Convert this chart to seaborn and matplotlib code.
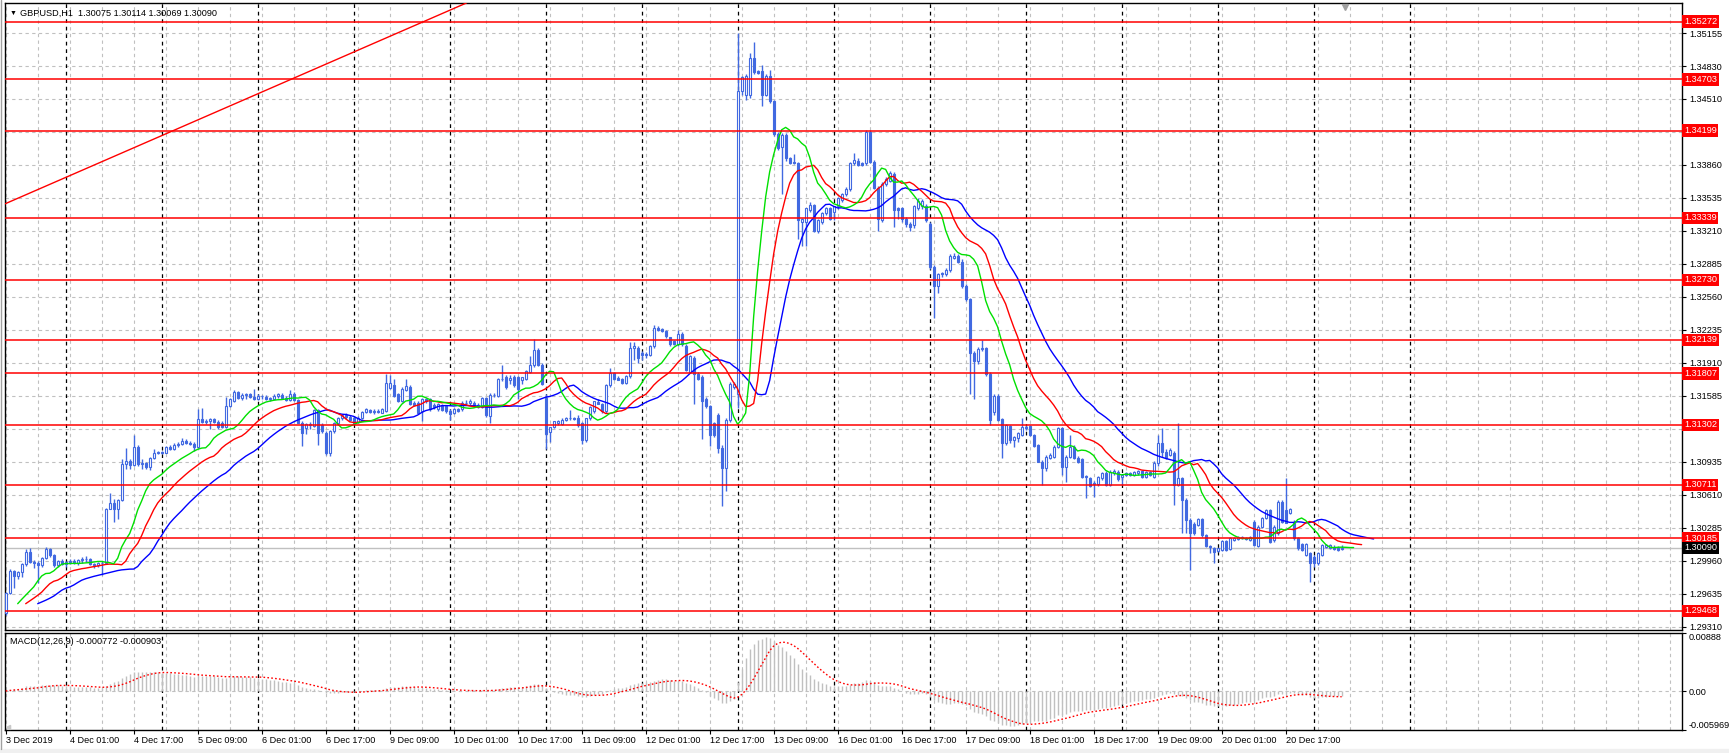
import numpy as np
import pandas as pd
import matplotlib
matplotlib.use("Agg")
import matplotlib.pyplot as plt
import matplotlib.transforms as mtrans
import seaborn as sns

sns.set_style("white")
plt.rcParams['font.family'] = ['Liberation Sans', 'DejaVu Sans']

# GBPUSD H1 bars, 3 Dec 2019 09:00 .. 23 Dec 2019 07:00
opens = [
    1.29450, 1.29647, 1.29860, 1.29811, 1.29851, 1.29926, 1.30051, 1.29949, 1.29942, 1.29916,
    1.29992, 1.30080, 1.30015, 1.29916, 1.29956, 1.29933, 1.29949, 1.29956, 1.29942, 1.29969,
    1.29982, 1.29975, 1.29926, 1.29916, 1.29936, 1.29942, 1.30474, 1.30527, 1.30468, 1.30560,
    1.30911, 1.30941, 1.30901, 1.31085, 1.30911, 1.30921, 1.30885, 1.30973, 1.31026, 1.31032,
    1.31026, 1.31078, 1.31065, 1.31105, 1.31111, 1.31144, 1.31124, 1.31114, 1.31082, 1.31361,
    1.31328, 1.31338, 1.31354, 1.31328, 1.31321, 1.31282, 1.31485, 1.31535, 1.31623, 1.31568,
    1.31594, 1.31600, 1.31577, 1.31551, 1.31584, 1.31574, 1.31551, 1.31558, 1.31584, 1.31594,
    1.31561, 1.31545, 1.31607, 1.31545, 1.31321, 1.31272, 1.31295, 1.31289, 1.31446, 1.31295,
    1.31223, 1.31026, 1.31236, 1.31315, 1.31367, 1.31394, 1.31380, 1.31364, 1.31331, 1.31371,
    1.31426, 1.31446, 1.31426, 1.31436, 1.31420, 1.31436, 1.31666, 1.31689, 1.31600, 1.31535,
    1.31643, 1.31676, 1.31518, 1.31518, 1.31436, 1.31551, 1.31551, 1.31492, 1.31453, 1.31492,
    1.31485, 1.31436, 1.31420, 1.31453, 1.31453, 1.31518, 1.31512, 1.31518, 1.31492, 1.31479,
    1.31568, 1.31387, 1.31597, 1.31584, 1.31755, 1.31772, 1.31739, 1.31772, 1.31772, 1.31739,
    1.31755, 1.31823, 1.31891, 1.32037, 1.31891, 1.31569, 1.31230, 1.31281, 1.31315, 1.31304,
    1.31349, 1.31365, 1.31365, 1.31365, 1.31315, 1.31155, 1.31365, 1.31433, 1.31528, 1.31508,
    1.31433, 1.31688, 1.31813, 1.31766, 1.31755, 1.31711, 1.31779, 1.32061, 1.32061, 1.32010,
    1.32003, 1.31993, 1.32078, 1.32254, 1.32240, 1.32220, 1.32162, 1.32128, 1.32095, 1.32196,
    1.32078, 1.31823, 1.31959, 1.31806, 1.31772, 1.31552, 1.31484, 1.31315, 1.31399, 1.31077,
    1.30874, 1.31349, 1.31671, 1.31603, 1.34587, 1.34553, 1.34553, 1.34909, 1.34784, 1.34784,
    1.34553, 1.34740, 1.34485, 1.34163, 1.34038, 1.34153, 1.33926, 1.33892, 1.33875, 1.33298,
    1.33298, 1.33417, 1.33468, 1.33214, 1.33298, 1.33383, 1.33434, 1.33400, 1.33451, 1.33519,
    1.33570, 1.33621, 1.33875, 1.33902, 1.33875, 1.33875, 1.34180, 1.33892, 1.33637, 1.33315,
    1.33671, 1.33705, 1.33773, 1.33434, 1.33434, 1.33332, 1.33281, 1.33264, 1.33434, 1.33451,
    1.33451, 1.33281, 1.32858, 1.32671, 1.32796, 1.32783, 1.32830, 1.32942, 1.32959, 1.32908,
    1.32671, 1.32535, 1.32010, 1.31925, 1.32044, 1.32061, 1.31800, 1.31430, 1.31585, 1.31355,
    1.31118, 1.31289, 1.31151, 1.31168, 1.31201, 1.31283, 1.31289, 1.31201, 1.31102, 1.30938,
    1.30872, 1.30971, 1.30987, 1.31086, 1.31266, 1.30889, 1.30987, 1.31086, 1.30971, 1.30961,
    1.30797, 1.30774, 1.30731, 1.30718, 1.30774, 1.30830, 1.30708, 1.30823, 1.30839, 1.30790,
    1.30807, 1.30823, 1.30807, 1.30823, 1.30849, 1.30790, 1.30839, 1.30790, 1.30921, 1.31118,
    1.31036, 1.31004, 1.31027, 1.30708, 1.30774, 1.30560, 1.30363, 1.30324, 1.30314, 1.30370,
    1.30216, 1.30107, 1.30084, 1.30061, 1.30068, 1.30160, 1.30074, 1.30166, 1.30173, 1.30199,
    1.30183, 1.30166, 1.30347, 1.30107, 1.30298, 1.30380, 1.30462, 1.30166, 1.30232, 1.30544,
    1.30462, 1.30429, 1.30347, 1.30183, 1.30127, 1.30019, 1.30035, 1.30002, 1.29937, 1.30019,
    1.30101, 1.30084, 1.30101, 1.30091, 1.30075,
]
highs = [
    1.29654, 1.29877, 1.29870, 1.29860, 1.29936, 1.30080, 1.30090, 1.29969, 1.29959, 1.30002,
    1.30100, 1.30090, 1.30024, 1.29965, 1.29975, 1.29959, 1.29975, 1.29982, 1.29982, 1.30002,
    1.30008, 1.29992, 1.29942, 1.29949, 1.29959, 1.30484, 1.30625, 1.30566, 1.30573, 1.30967,
    1.31075, 1.30960, 1.31197, 1.31098, 1.30960, 1.30934, 1.30986, 1.31059, 1.31042, 1.31042,
    1.31091, 1.31105, 1.31118, 1.31131, 1.31174, 1.31157, 1.31141, 1.31131, 1.31453, 1.31469,
    1.31354, 1.31371, 1.31367, 1.31348, 1.31334, 1.31577, 1.31564, 1.31643, 1.31633, 1.31610,
    1.31617, 1.31610, 1.31650, 1.31600, 1.31597, 1.31591, 1.31577, 1.31604, 1.31610, 1.31617,
    1.31584, 1.31643, 1.31623, 1.31558, 1.31338, 1.31315, 1.31328, 1.31459, 1.31459, 1.31321,
    1.31239, 1.31249, 1.31328, 1.31380, 1.31407, 1.31413, 1.31394, 1.31387, 1.31387, 1.31440,
    1.31466, 1.31459, 1.31453, 1.31453, 1.31466, 1.31797, 1.31788, 1.31748, 1.31617, 1.31676,
    1.31755, 1.31689, 1.31535, 1.31535, 1.31568, 1.31564, 1.31564, 1.31512, 1.31512, 1.31505,
    1.31499, 1.31453, 1.31466, 1.31466, 1.31531, 1.31545, 1.31551, 1.31531, 1.31512, 1.31577,
    1.31577, 1.31610, 1.31617, 1.31761, 1.31886, 1.31788, 1.31788, 1.31788, 1.31779, 1.31772,
    1.31840, 1.31976, 1.32145, 1.32061, 1.31908, 1.31603, 1.31281, 1.31338, 1.31349, 1.31365,
    1.31380, 1.31450, 1.31380, 1.31399, 1.31330, 1.31372, 1.31484, 1.31535, 1.31552, 1.31520,
    1.31705, 1.31857, 1.31823, 1.31779, 1.31766, 1.31790, 1.32118, 1.32112, 1.32078, 1.32030,
    1.32020, 1.32090, 1.32288, 1.32270, 1.32254, 1.32230, 1.32170, 1.32140, 1.32230, 1.32210,
    1.32100, 1.31990, 1.31980, 1.31820, 1.31790, 1.31570, 1.31500, 1.31330, 1.31420, 1.31100,
    1.31365, 1.31720, 1.31720, 1.35163, 1.34740, 1.34760, 1.34960, 1.35068, 1.34800, 1.34841,
    1.34760, 1.34797, 1.34500, 1.34180, 1.34170, 1.34170, 1.33940, 1.33970, 1.33890, 1.33340,
    1.33440, 1.33500, 1.33480, 1.33330, 1.33400, 1.33450, 1.33450, 1.33460, 1.33540, 1.33580,
    1.33640, 1.33890, 1.33980, 1.33930, 1.33890, 1.34207, 1.34200, 1.33910, 1.33650, 1.33690,
    1.33740, 1.33800, 1.33790, 1.33450, 1.33450, 1.33350, 1.33300, 1.33470, 1.33530, 1.33520,
    1.33480, 1.33300, 1.32870, 1.32800, 1.32810, 1.32850, 1.32980, 1.32990, 1.32980, 1.32930,
    1.32690, 1.32550, 1.32030, 1.32070, 1.32136, 1.32070, 1.31820, 1.31600, 1.31600, 1.31370,
    1.31310, 1.31300, 1.31190, 1.31230, 1.31365, 1.31299, 1.31300, 1.31210, 1.31110, 1.30950,
    1.31000, 1.31020, 1.31100, 1.31276, 1.31276, 1.31000, 1.31201, 1.31100, 1.30990, 1.30975,
    1.30810, 1.30790, 1.30750, 1.30800, 1.30840, 1.30845, 1.30860, 1.30870, 1.30855, 1.30815,
    1.30840, 1.30840, 1.30850, 1.30860, 1.30860, 1.30850, 1.30850, 1.30940, 1.31201, 1.31266,
    1.31060, 1.31070, 1.31040, 1.31315, 1.30790, 1.30577, 1.30380, 1.30340, 1.30385, 1.30385,
    1.30230, 1.30115, 1.30095, 1.30090, 1.30170, 1.30170, 1.30195, 1.30200, 1.30210, 1.30210,
    1.30200, 1.30205, 1.30360, 1.30310, 1.30390, 1.30475, 1.30470, 1.30310, 1.30560, 1.30560,
    1.30774, 1.30480, 1.30360, 1.30195, 1.30135, 1.30140, 1.30045, 1.30015, 1.30050, 1.30130,
    1.30125, 1.30125, 1.30115, 1.30105, 1.30114,
]
lows = [
    1.29424, 1.29631, 1.29696, 1.29785, 1.29805, 1.29910, 1.29936, 1.29893, 1.29745, 1.29903,
    1.29982, 1.30002, 1.29903, 1.29900, 1.29916, 1.29903, 1.29926, 1.29926, 1.29923, 1.29942,
    1.29949, 1.29916, 1.29893, 1.29903, 1.29818, 1.29926, 1.30468, 1.30343, 1.30369, 1.30547,
    1.30862, 1.30862, 1.30895, 1.30895, 1.30862, 1.30868, 1.30855, 1.30960, 1.31009, 1.31009,
    1.31019, 1.31052, 1.31052, 1.31085, 1.31105, 1.31111, 1.31101, 1.31042, 1.31072, 1.31315,
    1.31308, 1.31256, 1.31315, 1.31256, 1.31269, 1.31269, 1.31472, 1.31525, 1.31558, 1.31545,
    1.31558, 1.31564, 1.31545, 1.31545, 1.31554, 1.31545, 1.31535, 1.31551, 1.31564, 1.31551,
    1.31531, 1.31538, 1.31538, 1.31315, 1.31091, 1.31206, 1.31262, 1.31275, 1.31105, 1.31223,
    1.31000, 1.30993, 1.31223, 1.31302, 1.31348, 1.31354, 1.31334, 1.31308, 1.31315, 1.31361,
    1.31413, 1.31413, 1.31407, 1.31413, 1.31413, 1.31426, 1.31656, 1.31577, 1.31525, 1.31525,
    1.31633, 1.31492, 1.31485, 1.31413, 1.31338, 1.31518, 1.31440, 1.31459, 1.31440, 1.31433,
    1.31420, 1.31348, 1.31407, 1.31426, 1.31440, 1.31492, 1.31492, 1.31479, 1.31466, 1.31466,
    1.31380, 1.31315, 1.31571, 1.31571, 1.31735, 1.31656, 1.31705, 1.31671, 1.31552, 1.31705,
    1.31745, 1.31813, 1.31874, 1.31880, 1.31688, 1.31060, 1.31128, 1.31265, 1.31298, 1.31298,
    1.31340, 1.31349, 1.31349, 1.31281, 1.31111, 1.31128, 1.31349, 1.31420, 1.31501, 1.31420,
    1.31420, 1.31671, 1.31745, 1.31739, 1.31700, 1.31700, 1.31766, 1.31942, 1.31908, 1.31942,
    1.31960, 1.31980, 1.32060, 1.32220, 1.32210, 1.32160, 1.32080, 1.32090, 1.32080, 1.32080,
    1.31830, 1.31810, 1.31501, 1.31740, 1.31162, 1.31470, 1.31094, 1.31180, 1.31026, 1.30501,
    1.30653, 1.31330, 1.31650, 1.31467, 1.34550, 1.34500, 1.34520, 1.34760, 1.34760, 1.34440,
    1.34540, 1.34470, 1.34150, 1.34010, 1.33570, 1.33900, 1.33870, 1.33870, 1.33129, 1.33061,
    1.33061, 1.33400, 1.33200, 1.33190, 1.33280, 1.33370, 1.33320, 1.33320, 1.33430, 1.33500,
    1.33550, 1.33600, 1.33860, 1.33850, 1.33850, 1.33860, 1.33880, 1.33620, 1.33214, 1.33300,
    1.33650, 1.33690, 1.33247, 1.33330, 1.33300, 1.33250, 1.33210, 1.33240, 1.33420, 1.33430,
    1.33300, 1.32840, 1.32349, 1.32600, 1.32760, 1.32770, 1.32810, 1.32930, 1.32890, 1.32650,
    1.32520, 1.31603, 1.31552, 1.31900, 1.32030, 1.31780, 1.31299, 1.31400, 1.31340, 1.30971,
    1.31100, 1.31118, 1.31086, 1.31135, 1.31190, 1.31250, 1.31190, 1.31080, 1.30930, 1.30708,
    1.30850, 1.30960, 1.30970, 1.31070, 1.30807, 1.30741, 1.30970, 1.30960, 1.30920, 1.30780,
    1.30577, 1.30690, 1.30593, 1.30700, 1.30760, 1.30700, 1.30700, 1.30810, 1.30750, 1.30708,
    1.30795, 1.30800, 1.30795, 1.30810, 1.30780, 1.30780, 1.30800, 1.30780, 1.30900, 1.30980,
    1.30960, 1.30990, 1.30511, 1.30700, 1.30232, 1.30232, 1.29871, 1.30220, 1.30300, 1.30200,
    1.30100, 1.30035, 1.29943, 1.30050, 1.30060, 1.30060, 1.30065, 1.30155, 1.30165, 1.30175,
    1.30165, 1.30160, 1.30110, 1.30095, 1.30285, 1.30370, 1.30140, 1.30150, 1.30220, 1.30330,
    1.30330, 1.30420, 1.30170, 1.30070, 1.30060, 1.30010, 1.29756, 1.29900, 1.29925, 1.30010,
    1.30090, 1.30075, 1.30065, 1.30060, 1.30069,
]
closes = [
    1.29647, 1.29860, 1.29811, 1.29851, 1.29926, 1.30051, 1.29949, 1.29942, 1.29916, 1.29992,
    1.30080, 1.30015, 1.29916, 1.29956, 1.29933, 1.29949, 1.29956, 1.29942, 1.29969, 1.29982,
    1.29975, 1.29926, 1.29916, 1.29936, 1.29942, 1.30474, 1.30527, 1.30468, 1.30560, 1.30911,
    1.30941, 1.30901, 1.31085, 1.30911, 1.30921, 1.30885, 1.30973, 1.31026, 1.31032, 1.31026,
    1.31078, 1.31065, 1.31105, 1.31111, 1.31144, 1.31124, 1.31114, 1.31082, 1.31361, 1.31328,
    1.31338, 1.31354, 1.31328, 1.31275, 1.31282, 1.31485, 1.31551, 1.31623, 1.31568, 1.31594,
    1.31600, 1.31577, 1.31551, 1.31584, 1.31581, 1.31551, 1.31564, 1.31584, 1.31600, 1.31561,
    1.31545, 1.31607, 1.31545, 1.31321, 1.31223, 1.31305, 1.31305, 1.31446, 1.31223, 1.31239,
    1.31026, 1.31236, 1.31315, 1.31367, 1.31394, 1.31380, 1.31348, 1.31321, 1.31371, 1.31426,
    1.31453, 1.31426, 1.31436, 1.31426, 1.31453, 1.31715, 1.31715, 1.31584, 1.31535, 1.31650,
    1.31682, 1.31502, 1.31492, 1.31420, 1.31551, 1.31538, 1.31453, 1.31472, 1.31502, 1.31446,
    1.31436, 1.31403, 1.31453, 1.31440, 1.31518, 1.31512, 1.31531, 1.31492, 1.31479, 1.31568,
    1.31394, 1.31597, 1.31591, 1.31755, 1.31748, 1.31671, 1.31762, 1.31688, 1.31654, 1.31772,
    1.31833, 1.31891, 1.32037, 1.31891, 1.31705, 1.31213, 1.31281, 1.31338, 1.31338, 1.31349,
    1.31372, 1.31365, 1.31360, 1.31298, 1.31155, 1.31365, 1.31475, 1.31535, 1.31501, 1.31433,
    1.31688, 1.31813, 1.31755, 1.31745, 1.31711, 1.31779, 1.32061, 1.32078, 1.31959, 1.31993,
    1.31986, 1.32078, 1.32254, 1.32230, 1.32220, 1.32179, 1.32095, 1.32095, 1.32196, 1.32095,
    1.31840, 1.31976, 1.31806, 1.31755, 1.31535, 1.31484, 1.31196, 1.31196, 1.31077, 1.30874,
    1.31349, 1.31705, 1.31705, 1.34587, 1.34723, 1.34740, 1.34909, 1.34773, 1.34767, 1.34553,
    1.34740, 1.34485, 1.34163, 1.34027, 1.34153, 1.33926, 1.33875, 1.33875, 1.33315, 1.33332,
    1.33434, 1.33468, 1.33214, 1.33315, 1.33383, 1.33434, 1.33332, 1.33451, 1.33536, 1.33570,
    1.33621, 1.33875, 1.33909, 1.33858, 1.33860, 1.34180, 1.33892, 1.33637, 1.33332, 1.33671,
    1.33722, 1.33780, 1.33417, 1.33417, 1.33332, 1.33281, 1.33247, 1.33451, 1.33502, 1.33502,
    1.33315, 1.32858, 1.32671, 1.32790, 1.32783, 1.32830, 1.32959, 1.32966, 1.32908, 1.32671,
    1.32535, 1.32010, 1.31925, 1.32044, 1.32061, 1.31800, 1.31348, 1.31585, 1.31348, 1.31118,
    1.31299, 1.31151, 1.31184, 1.31217, 1.31283, 1.31266, 1.31201, 1.31092, 1.30938, 1.30872,
    1.30987, 1.31004, 1.31086, 1.31266, 1.30889, 1.30987, 1.31086, 1.30971, 1.30938, 1.30790,
    1.30784, 1.30698, 1.30718, 1.30790, 1.30830, 1.30708, 1.30839, 1.30849, 1.30764, 1.30807,
    1.30830, 1.30807, 1.30839, 1.30849, 1.30790, 1.30839, 1.30807, 1.30928, 1.31118, 1.31036,
    1.30971, 1.31053, 1.30708, 1.30774, 1.30560, 1.30363, 1.30239, 1.30239, 1.30370, 1.30216,
    1.30107, 1.30094, 1.30051, 1.30084, 1.30160, 1.30068, 1.30183, 1.30183, 1.30199, 1.30183,
    1.30173, 1.30193, 1.30117, 1.30298, 1.30380, 1.30462, 1.30150, 1.30298, 1.30544, 1.30347,
    1.30337, 1.30468, 1.30183, 1.30084, 1.30068, 1.30127, 1.29937, 1.29937, 1.30035, 1.30117,
    1.30117, 1.30117, 1.30074, 1.30068, 1.30090,
]

# time axis labels (bar index -> text) and first bar of each trading day
label_bars = [0, 16, 32, 48, 64, 80, 96, 112, 128, 144, 160, 176, 192, 208, 224, 240, 256, 272, 288, 304, 320]
time_labels = ['3 Dec 2019', '4 Dec 01:00', '4 Dec 17:00', '5 Dec 09:00', '6 Dec 01:00', '6 Dec 17:00',
               '9 Dec 09:00', '10 Dec 01:00', '10 Dec 17:00', '11 Dec 09:00', '12 Dec 01:00',
               '12 Dec 17:00', '13 Dec 09:00', '16 Dec 01:00', '16 Dec 17:00', '17 Dec 09:00',
               '18 Dec 01:00', '18 Dec 17:00', '19 Dec 09:00', '20 Dec 01:00', '20 Dec 17:00']
day_starts = [15, 39, 63, 87, 111, 135, 159, 183, 207, 231, 255, 279, 303, 327, 351]

# horizontal levels, current bid and the trendline anchors
levels = [1.35272, 1.34703, 1.34199, 1.33339, 1.32730, 1.32139, 1.31807, 1.31302, 1.30711, 1.30185, 1.29468]
current_price = 1.30090
trend_bars = [0, 115]
trend_prices = [1.33480, 1.35452]

price_ticks = [1.35155, 1.34830, 1.34510, 1.34185, 1.33860, 1.33535, 1.33210, 1.32885, 1.32560, 1.32235,
               1.31910, 1.31585, 1.31260, 1.30935, 1.30610, 1.30285, 1.29960, 1.29635, 1.29310]
# scale labels that sit under a level's price box are not drawn
hidden_ticks = [1.34185, 1.31260]
macd_ticks = [0.00888, 0.0, -0.005969]
macd_tick_labels = ['0.00888', '0.00', '-0.005969']

CANDLE = '#4169e1'
GRID = '#c0c0c0'
FS = 6.6

df = pd.DataFrame({'open': opens, 'high': highs, 'low': lows, 'close': closes})
df['bar'] = np.arange(len(df))

# Alligator (SMMA of median price, shifted forward)
median = (df['high'] + df['low']) / 2
jaw = median.ewm(alpha=1 / 13, adjust=False).mean()
teeth = median.ewm(alpha=1 / 8, adjust=False).mean()
lips = median.ewm(alpha=1 / 5, adjust=False).mean()

# MACD(12,26,9), MT4 style: histogram = main, signal = SMA(main, 9)
ema12 = df['close'].ewm(span=12, adjust=False).mean()
ema26 = df['close'].ewm(span=26, adjust=False).mean()
macd = ema12 - ema26
signal = macd.rolling(9, min_periods=1).mean()

W, H = 1729, 753
fig = plt.figure(figsize=(W / 100, H / 100), dpi=100)
fig.patch.set_facecolor('white')
left, right = 4.5, 1682
ax = fig.add_axes([left / W, (H - 630) / H, (right - left) / W, 627 / H])
axm = fig.add_axes([left / W, (H - 730) / H, (right - left) / W, 97 / H])

xmin, xmax = -0.3, 419.1
grid_bars = list(range(0, 420, 8))
dash = (0, (3, 3))

for a in (ax, axm):
    a.set_xlim(xmin, xmax)
    a.set_facecolor('white')
    for b in grid_bars:
        a.axvline(b, color=GRID, lw=0.8, ls=dash, zorder=0)
    for b in day_starts:
        a.axvline(b, color='black', lw=0.9, ls=dash, zorder=1)
    for s in a.spines.values():
        s.set_color('black')
        s.set_linewidth(1.0)

# ---- price panel ----
ax.set_ylim(1.29280, 1.35455)
for t in price_ticks:
    ax.axhline(t, color=GRID, lw=0.8, ls=dash, zorder=0)

ax.vlines(df['bar'], df['low'], df['high'], color=CANDLE, lw=1, zorder=3)
bull = df[df['close'] >= df['open']]
bear = df[df['close'] < df['open']]
ax.bar(bull['bar'], (bull['close'] - bull['open']).clip(lower=0.000005), bottom=bull['open'],
       width=0.55, facecolor='white', edgecolor=CANDLE, linewidth=0.8, zorder=4)
ax.bar(bear['bar'], bear['open'] - bear['close'], bottom=bear['close'],
       width=0.55, facecolor=CANDLE, edgecolor=CANDLE, linewidth=0.8, zorder=4)

sns.lineplot(x=df['bar'] + 8, y=jaw, ax=ax, color='#0000ff', lw=1, zorder=5)
sns.lineplot(x=df['bar'] + 5, y=teeth, ax=ax, color='#ff0000', lw=1, zorder=5)
sns.lineplot(x=df['bar'] + 3, y=lips, ax=ax, color='#00e000', lw=1, zorder=5)

for lv in levels:
    ax.axhline(lv, color='red', lw=1.1, zorder=6)
ax.axhline(current_price, color=GRID, lw=1.0, zorder=2)
ax.axline((trend_bars[0], trend_prices[0]), (trend_bars[1], trend_prices[1]), color='red', lw=1, zorder=6)

ax.set_yticks(price_ticks)
ax.set_yticklabels(['' if t in hidden_ticks else f'{t:.5f}' for t in price_ticks])
ax.yaxis.tick_right()
ax.tick_params(axis='y', length=3, width=0.8, pad=2, labelsize=FS, colors='black', right=True, left=False)
ax.tick_params(axis='x', bottom=False, labelbottom=False)
ax.set_xlabel('')
ax.set_ylabel('')

blend = mtrans.blended_transform_factory(ax.transAxes, ax.transData)
for lv in levels:
    ax.text(1.0012, lv, f'{lv:.5f}', transform=blend, color='white', fontsize=FS, va='center', ha='left',
            bbox=dict(boxstyle='square,pad=0.18', fc='red', ec='none'), clip_on=False, zorder=10)
ax.text(1.0012, current_price, f'{current_price:.5f}', transform=blend, color='white', fontsize=FS,
        va='center', ha='left', bbox=dict(boxstyle='square,pad=0.18', fc='black', ec='none'),
        clip_on=False, zorder=11)

ax.text(0.0032, 0.984, '\u25bc', transform=ax.transAxes, fontsize=5, va='center', ha='left', color='black')
ax.text(0.0092, 0.984, 'GBPUSD,H1  1.30075 1.30114 1.30069 1.30090', transform=ax.transAxes,
        fontsize=FS, va='center', ha='left', color='black', zorder=12)
ax.plot([len(df) - 0.2], [0.993], transform=mtrans.blended_transform_factory(ax.transData, ax.transAxes),
        marker='v', ms=4, color='#a0a0a0', clip_on=False, zorder=12)

# ---- MACD panel ----
axm.set_ylim(-0.005969, 0.00888)
axm.axhline(0, color=GRID, lw=0.8, ls=dash, zorder=0)
axm.vlines(df['bar'], 0, macd, color=GRID, lw=1, zorder=2)
sns.lineplot(x=df['bar'], y=signal, ax=axm, color='red', lw=1, linestyle=(0, (1.2, 1.6)), zorder=3)
axm.set_yticks(macd_ticks)
axm.set_yticklabels(macd_tick_labels)
axm.yaxis.tick_right()
axm.tick_params(axis='y', length=3, width=0.8, pad=2, labelsize=FS, colors='black', right=True, left=False)
ylabels = axm.get_yticklabels()
ylabels[0].set_va('top')
ylabels[2].set_va('bottom')
axm.set_xticks(label_bars)
axm.set_xticklabels(time_labels)
axm.tick_params(axis='x', length=3, width=0.8, pad=1.5, labelsize=FS, colors='black', bottom=True)
for lab in axm.get_xticklabels():
    lab.set_ha('left')
axm.set_xlabel('')
axm.set_ylabel('')
axm.text(0.0033, 0.91, 'MACD(12,26,9) -0.000772 -0.000903', transform=axm.transAxes,
         fontsize=FS, va='center', ha='left', color='black')
axm.plot([0.6], [-0.0055], marker='<', ms=3, color='#c8c8c8', clip_on=False, zorder=4)

# window frame bits
fig.add_artist(plt.Rectangle((0, 0), 1, 4 / H, transform=fig.transFigure, color='#f0f0f0', zorder=0))
fig.add_artist(plt.Line2D([0.5 / W, 0.5 / W], [4 / H, 1], transform=fig.transFigure, color='#a0a0a0', lw=1))

fig.savefig('out.png', dpi=100)
